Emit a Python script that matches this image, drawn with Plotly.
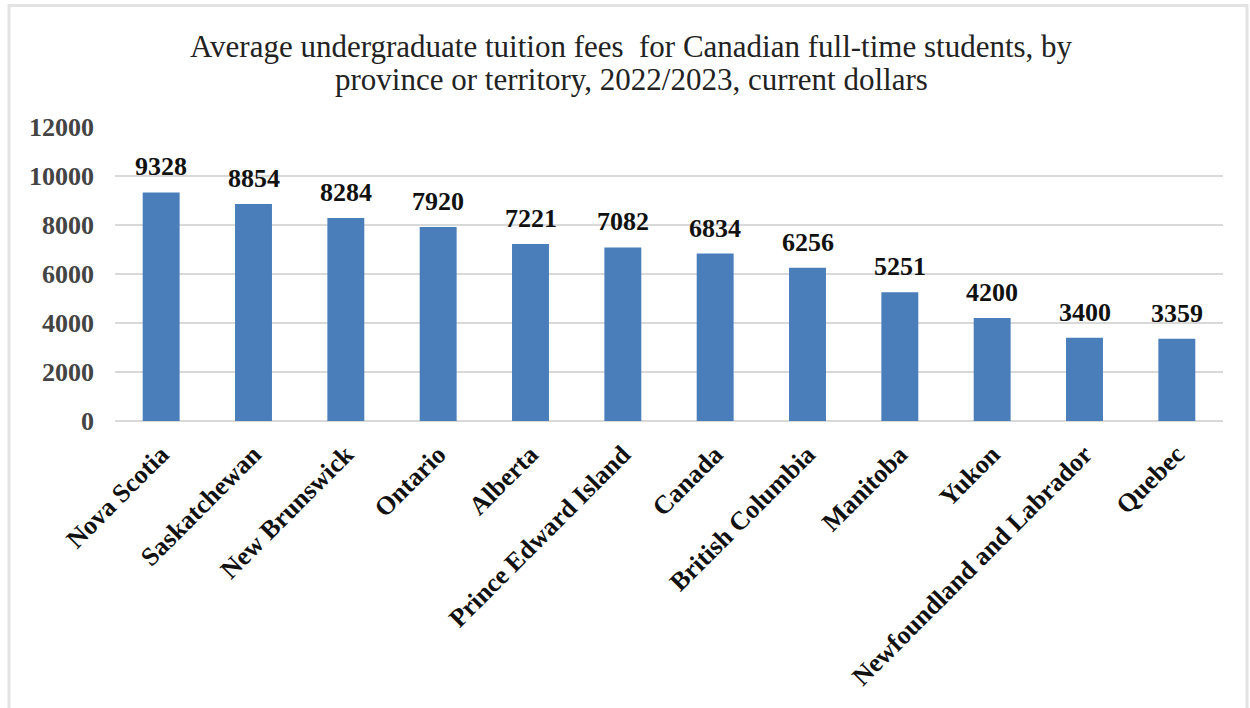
import plotly.graph_objects as go

# Average undergraduate tuition, 2022/2023 (current dollars)
provinces = [
    "Nova Scotia", "Saskatchewan", "New Brunswick", "Ontario", "Alberta",
    "Prince Edward Island", "Canada", "British Columbia", "Manitoba",
    "Yukon", "Newfoundland and Labrador", "Quebec",
]
tuition = [9328, 8854, 8284, 7920, 7221, 7082, 6834, 6256, 5251, 4200, 3400, 3359]
y_ticks = [0, 2000, 4000, 6000, 8000, 10000, 12000]

title_lines = [
    "Average undergraduate tuition fees  for Canadian full-time students, by",
    "province or territory, 2022/2023, current dollars",
]

SERIF = "Liberation Serif, Times New Roman, serif"
BAR_BLUE = "#4a7ebb"
GRID = "#d9d9d9"

W, H = 1250, 708
L, R, T, B = 115, 27, 127, 287
plot_w, plot_h = W - L - R, H - T - B


def px_x(px):
    return (px - L) / plot_w


def px_y(py):
    return (H - B - py) / plot_h


fig = go.Figure(
    go.Bar(
        x=provinces,
        y=tuition,
        marker=dict(color=BAR_BLUE, line=dict(width=0)),
        width=0.4,
        hoverinfo="x+y",
    )
)

# value labels above each bar
for name, val in zip(provinces, tuition):
    fig.add_annotation(
        x=name, y=val, xref="x", yref="y",
        text=f"<b>{val}</b>", showarrow=False,
        yanchor="bottom", yshift=9,
        font=dict(family=SERIF, size=26, color="#111111"),
    )

# two-line title, each line placed on its own baseline
for line, py in zip(title_lines, [47, 80]):
    fig.add_annotation(
        x=px_x(631), y=px_y(py), xref="paper", yref="paper",
        text=line, showarrow=False,
        xanchor="center", yanchor="middle",
        font=dict(family=SERIF, size=31, color="#222222"),
    )

# light frame around the chart
fig.add_shape(
    type="rect", xref="paper", yref="paper",
    x0=px_x(9), x1=px_x(1247), y0=px_y(720), y1=px_y(5.5),
    line=dict(color="#e3e3e3", width=3), fillcolor="rgba(0,0,0,0)",
    layer="below",
)

fig.update_layout(
    width=W, height=H,
    margin=dict(l=L, r=R, t=T, b=B, autoexpand=False),
    paper_bgcolor="white", plot_bgcolor="white",
    showlegend=False,
    bargap=0.6,
    xaxis=dict(
        type="category",
        tickangle=-45,
        tickfont=dict(family=SERIF, size=26, color="#111111", weight="bold"),
        showgrid=False, showline=False, ticks="",
        ticklabelstandoff=12,
    ),
    yaxis=dict(
        range=[0, 12000],
        tickvals=y_ticks,
        ticktext=[f"<b>{v}</b>" for v in y_ticks],
        tickfont=dict(family=SERIF, size=26, color="#444444"),
        showgrid=True, gridcolor=GRID, gridwidth=1.5,
        zeroline=True, zerolinecolor=GRID, zerolinewidth=1.5,
        showline=False, ticks="",
        ticklabelstandoff=20,
    ),
)

fig.write_html("out.html")
